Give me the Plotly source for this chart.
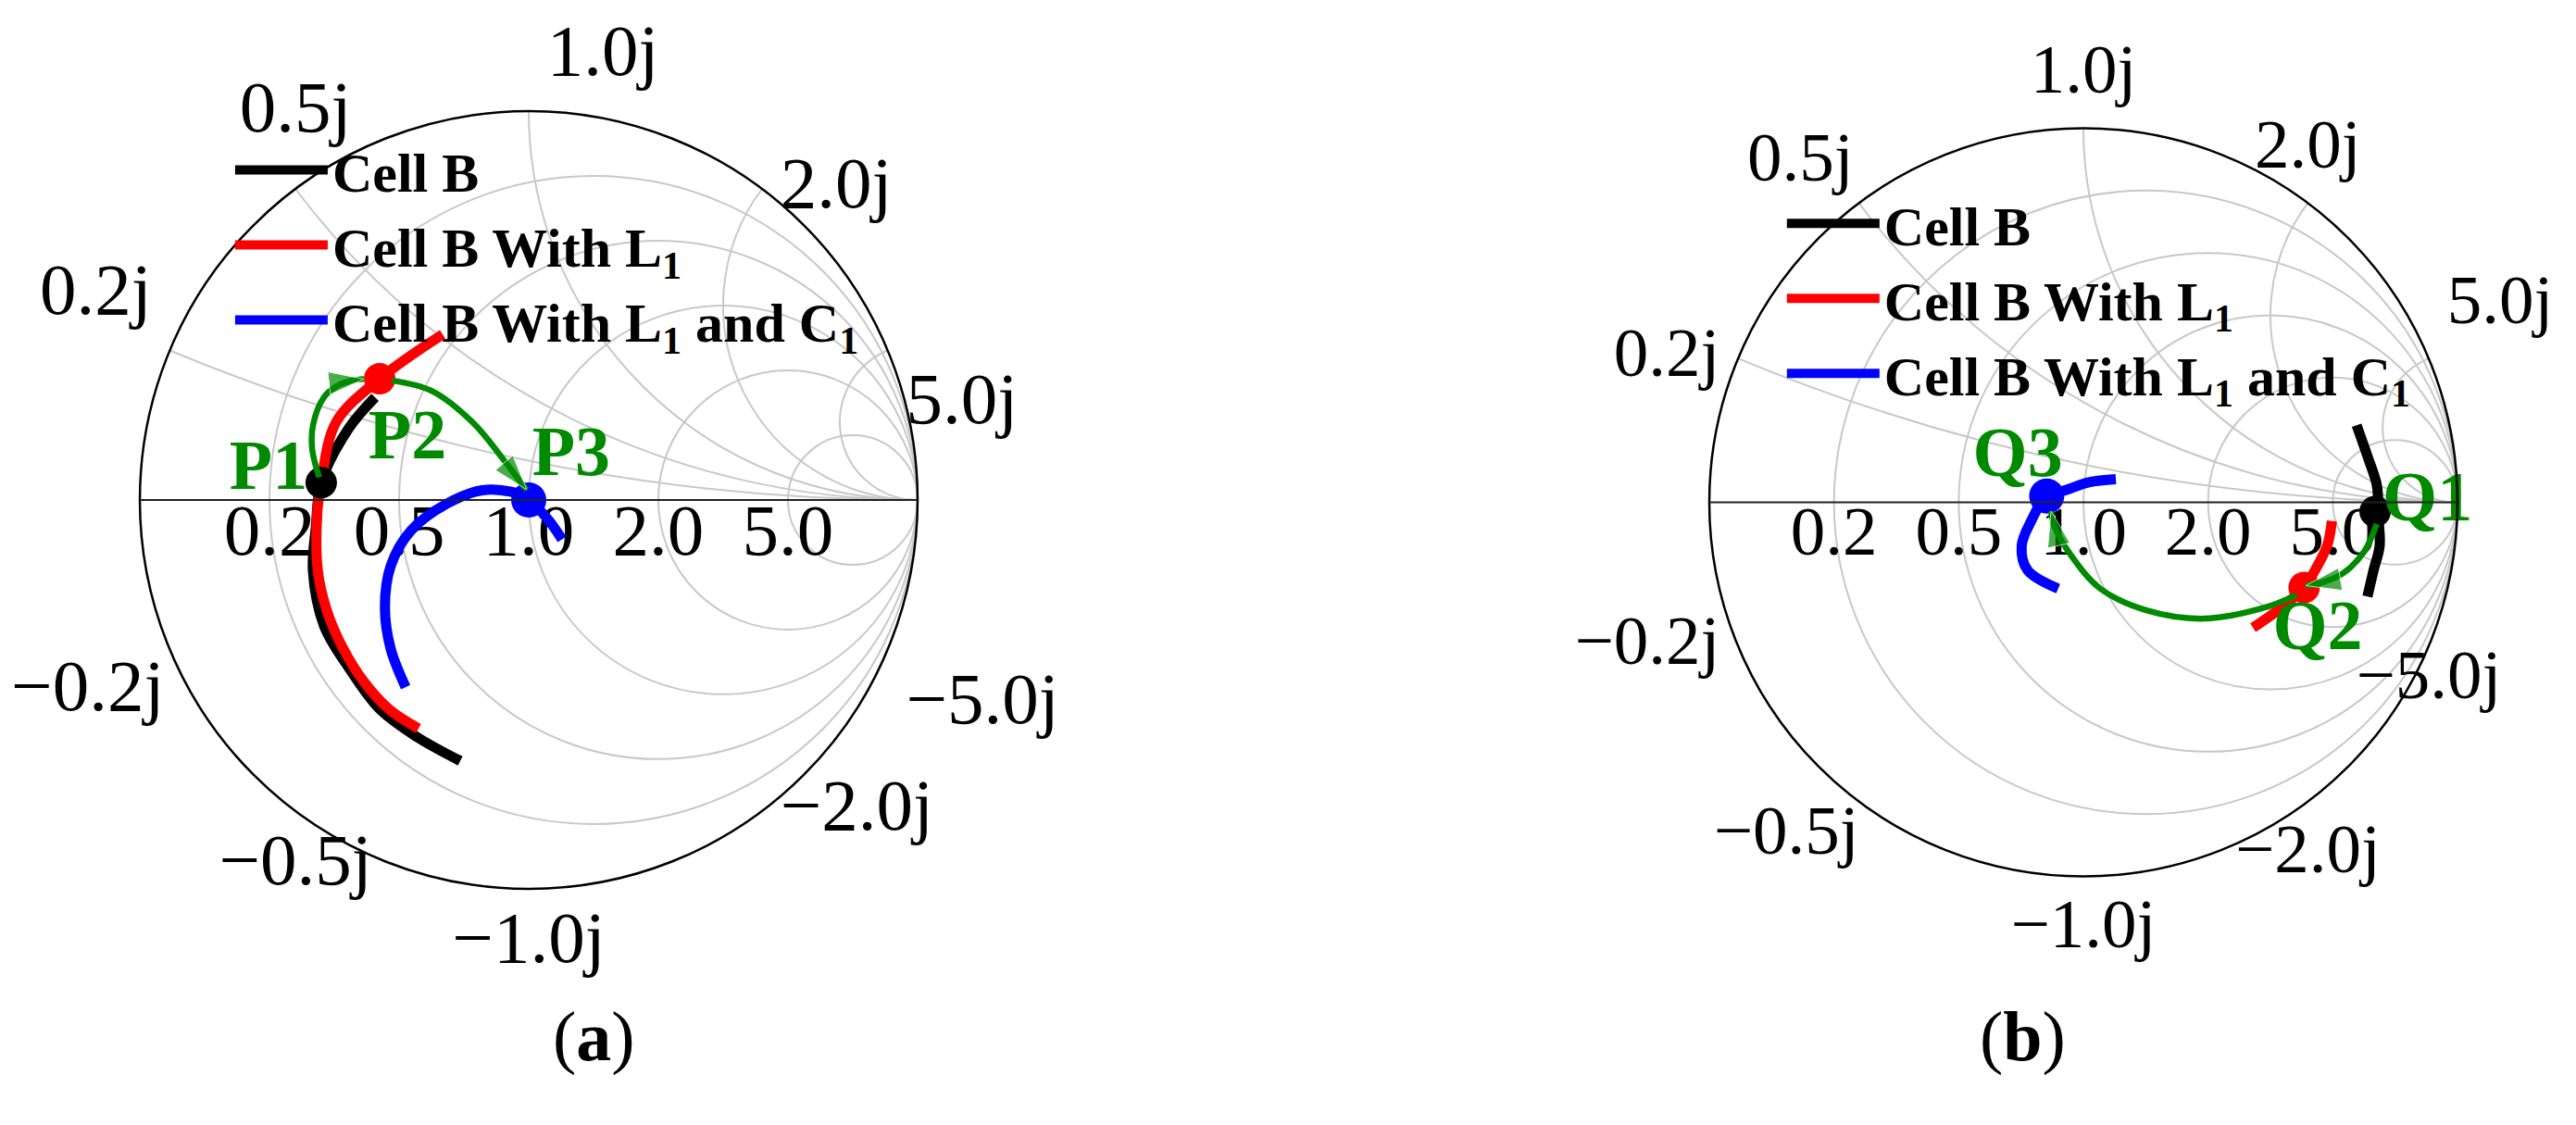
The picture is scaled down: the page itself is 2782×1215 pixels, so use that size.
import plotly.graph_objects as go

# ---------------- (a) normalised impedance z = r + jx ----------------
a_cellb_r = [0.283, 0.269, 0.256, 0.258, 0.254, 0.269, 0.290, 0.303, 0.346, 0.384]
a_cellb_x = [-0.732, -0.600, -0.488, -0.373, -0.266, -0.148, -0.058, 0.038, 0.170, 0.262]
a_l1_r = [0.288, 0.272, 0.268, 0.269, 0.272, 0.279, 0.296, 0.303, 0.314, 0.376, 0.460]
a_l1_x = [-0.590, -0.503, -0.416, -0.325, -0.237, -0.150, -0.018, 0.038, 0.176, 0.310, 0.509]
a_l1c1_r = [0.340, 0.367, 0.403, 0.454, 0.530, 0.652, 0.786, 0.944, 1.000, 1.095, 1.161]
a_l1c1_x = [-0.490, -0.386, -0.283, -0.181, -0.092, -0.013, 0.040, 0.032, 0.000, -0.105, -0.239]

a_pts_name = ['P1', 'P2', 'P3']
a_pts_r = [0.303, 0.376, 1.000]
a_pts_x = [0.038, 0.310, 0.000]
a_lab_r = [0.196, 0.504, 1.212]
a_lab_x = [0.053, 0.175, 0.272]

a_arrow1_r = [0.298, 0.276, 0.267, 0.272, 0.289, 0.316, 0.341]
a_arrow1_x = [0.049, 0.106, 0.157, 0.220, 0.252, 0.278, 0.293]
a_arrow2_r = [0.407, 0.525, 0.694, 0.858, 0.961, 0.989]
a_arrow2_x = [0.320, 0.342, 0.297, 0.184, 0.081, 0.052]

# ---------------- (b) ----------------
b_cellb_r = [3.68, 5.57, 7.79, 8.39, 8.28, 6.35, 4.39, 2.97]
b_cellb_x = [3.58, 3.38, 2.01, 0.55, -1.08, -4.08, -4.36, -4.15]
b_l1_r = [4.83, 4.17, 3.28, 2.73, 2.06, 1.66]
b_l1_x = [-0.86, -1.72, -2.04, -2.07, -1.84, -1.63]
b_l1c1_r = [1.180, 1.024, 0.909, 0.821, 0.752, 0.700, 0.698, 0.790]
b_l1c1_x = [0.148, 0.110, 0.060, 0.028, -0.076, -0.169, -0.268, -0.387]

b_pts_name = ['Q1', 'Q2', 'Q3']
b_pts_r = [7.97, 2.73, 0.821]
b_pts_x = [-1.00, -2.07, 0.028]
b_lab_r = [24.0, 1.897, 0.685]
b_lab_x = [0.0, -2.666, 0.167]

b_arrow1_r = [7.64, 5.26, 3.71, 3.07, 2.79]
b_arrow1_x = [-2.31, -3.31, -2.92, -2.40, -2.08]
b_arrow2_r = [2.49, 2.00, 1.44, 1.15, 0.98, 0.90, 0.85, 0.84]
b_arrow2_x = [-2.01, -1.64, -1.12, -0.75, -0.48, -0.26, -0.11, -0.04]

# ---------------- axis ticks ----------------
grid_vals = [0.2, 0.5, 1.0, 2.0, 5.0]
real_labels = ['0.2', '0.5', '1.0', '2.0', '5.0']
imag_vals = [0.2, 0.5, 1.0, 2.0, 5.0, -0.2, -0.5, -1.0, -2.0, -5.0]
imag_labels = ['0.2j', '0.5j', '1.0j', '2.0j', '5.0j',
               '\u22120.2j', '\u22120.5j', '\u22121.0j', '\u22122.0j', '\u22125.0j']
a_imag_pos = ['top left', 'top center', 'top right', 'middle right', 'bottom right',
              'bottom left', 'bottom center', 'bottom center', 'middle right', 'bottom right']
a_imag_gap = [30, 66, 30, 30, 30, 8, 30, 30, 30, 30]
b_imag_pos = ['middle left', 'top left', 'top center', 'top center', 'top right',
              'middle left', 'bottom left', 'bottom center', 'bottom center', 'bottom center']
b_imag_gap = [30, 8, 30, 30, 30, 30, 0, 30, 30, 0]

series_names = ['Cell B', 'Cell B With L<sub>1</sub>', 'Cell B With L<sub>1</sub> and C<sub>1</sub>']
series_colors = ['black', '#ff0000', '#0000ff']
green = '#008a00'
serif = 'Liberation Serif'

fig = go.Figure()


def add_panel(subplot, legend, curves, pts_r, pts_x, names, lab_r, lab_x, arrows,
              fsize, imag_pos, imag_gap):
    tf = dict(family=serif, size=fsize, color='black')
    # real-axis labels below the line
    fig.add_trace(go.Scattersmith(real=grid_vals, imag=[0] * len(grid_vals), mode='text',
                                  text=real_labels, textposition='bottom center', textfont=tf,
                                  cliponaxis=False, showlegend=False, hoverinfo='skip',
                                  subplot=subplot))
    # reactance labels round the rim (no infinity label); invisible markers set the gap
    fig.add_trace(go.Scattersmith(real=[0] * len(imag_vals), imag=imag_vals, mode='markers+text',
                                  text=imag_labels, textposition=imag_pos, textfont=tf,
                                  marker=dict(size=imag_gap, opacity=0),
                                  cliponaxis=False, showlegend=False, hoverinfo='skip',
                                  subplot=subplot))
    for (r, x), name, color in zip(curves, series_names, series_colors):
        fig.add_trace(go.Scattersmith(real=r, imag=x, mode='lines', name=name,
                                      line=dict(color=color, width=11, shape='spline'),
                                      subplot=subplot, legend=legend))
    # state markers
    for i in range(3):
        fig.add_trace(go.Scattersmith(real=[pts_r[i]], imag=[pts_x[i]], mode='markers',
                                      marker=dict(color=series_colors[i], size=34 if i < 2 else 38),
                                      showlegend=False, subplot=subplot))
    # green arrows between states (drawn over the markers)
    for r, x in arrows:
        n = len(r)
        fig.add_trace(go.Scattersmith(real=r, imag=x, mode='lines+markers',
                                      line=dict(color=green, width=6.5, shape='spline'),
                                      marker=dict(symbol='arrow', angleref='previous',
                                                  size=[0] * (n - 1) + [40], color=green),
                                      showlegend=False, subplot=subplot))
    fig.add_trace(go.Scattersmith(real=lab_r, imag=lab_x, mode='text', text=names,
                                  textposition='middle center',
                                  textfont=dict(family=serif, size=76, color=green, weight='bold'),
                                  cliponaxis=False, showlegend=False, subplot=subplot))


add_panel('smith', 'legend',
          [(a_cellb_r, a_cellb_x), (a_l1_r, a_l1_x), (a_l1c1_r, a_l1c1_x)],
          a_pts_r, a_pts_x, a_pts_name, a_lab_r, a_lab_x,
          [(a_arrow1_r, a_arrow1_x), (a_arrow2_r, a_arrow2_x)], 79, a_imag_pos, a_imag_gap)
add_panel('smith2', 'legend2',
          [(b_cellb_r, b_cellb_x), (b_l1_r, b_l1_x), (b_l1c1_r, b_l1c1_x)],
          b_pts_r, b_pts_x, b_pts_name, b_lab_r, b_lab_x,
          [(b_arrow1_r, b_arrow1_x), (b_arrow2_r, b_arrow2_x)], 75, b_imag_pos, b_imag_gap)


def smith_layout(dx, dy):
    return dict(
        domain=dict(x=dx, y=dy),
        bgcolor='white',
        realaxis=dict(tickvals=grid_vals, showticklabels=False,
                      showline=True, linecolor='#222222', linewidth=2,
                      gridcolor='#c8c8c8', gridwidth=1.5, ticks=''),
        imaginaryaxis=dict(tickvals=grid_vals, showticklabels=False,
                           showline=True, linecolor='black', linewidth=2.5,
                           gridcolor='#c8c8c8', gridwidth=1.5, ticks=''),
    )


legend_font = dict(family=serif, size=60, color='black', weight='bold')
fig.update_layout(
    width=2782, height=1215,
    margin=dict(l=0, r=0, t=0, b=0),
    paper_bgcolor='white',
    smith=smith_layout([143 / 2782, 983 / 2782], [0.2165, 0.9078]),
    smith2=smith_layout([1838 / 2782, 2646 / 2782], [0.2275, 0.8926]),
    legend=dict(x=0.0866, y=0.893, xanchor='left', yanchor='top', bgcolor='rgba(0,0,0,0)',
                font=legend_font, itemwidth=100, tracegroupgap=0),
    legend2=dict(x=0.689, y=0.8455, xanchor='left', yanchor='top', bgcolor='rgba(0,0,0,0)',
                 font=legend_font, itemwidth=100, tracegroupgap=0),
    annotations=[
        dict(text='(<b>a</b>)', x=587 / 2782, y=1 - 1156 / 1215, xref='paper', yref='paper',
             showarrow=False, font=dict(family=serif, size=76, color='black')),
        dict(text='(<b>b</b>)', x=2225 / 2782, y=1 - 1156 / 1215, xref='paper', yref='paper',
             showarrow=False, font=dict(family=serif, size=76, color='black')),
    ],
)

fig.write_html('out.html')
